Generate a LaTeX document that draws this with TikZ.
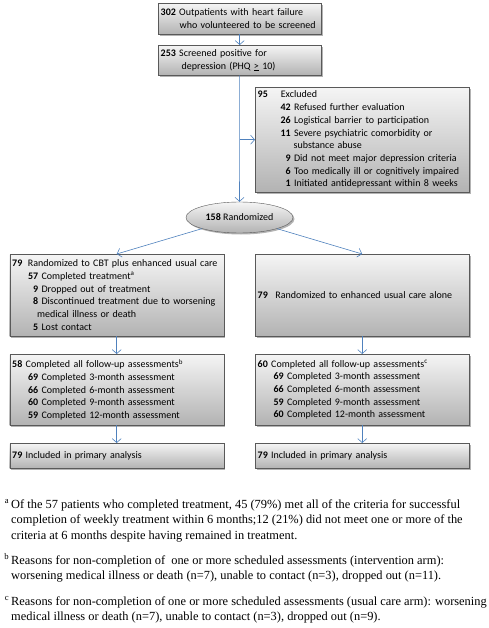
\documentclass[tikz,border=0pt]{standalone}
\usepackage{fontspec}
\setmainfont{Liberation Serif}
\newfontfamily\boxfont{Carlito}
\usetikzlibrary{arrows.meta,shadows,shapes.geometric}
\definecolor{flowblue}{RGB}{79,129,189}
\tikzset{
  box/.style={rectangle,draw=black!65,top color=black!4,bottom color=black!30,
    drop shadow={shadow xshift=1.5pt,shadow yshift=-1.5pt,fill=black!50,opacity=.6},
    anchor=north west,inner xsep=1.5pt,inner ysep=2pt,align=left,font=\boxfont\fontsize{10}{12.7}\selectfont},
  flow/.style={draw=flowblue,line width=.6pt,-{Straight Barb[length=4pt,width=9pt]}},
  note/.style={anchor=base west,inner sep=0pt,align=left,font=\fontsize{12.4}{15.5}\selectfont}
}
\newcommand{\boxnum}[2]{\hspace*{#1}\makebox[11pt][r]{\textbf{#2}}\ }
\begin{document}
\begin{tikzpicture}[x=1pt,y=-1pt]
\useasboundingbox (0,0) rectangle (489,628);
% screening
\node[box,text width=160pt,minimum height=31pt] (screen) at (158,3)
  {\hspace*{1pt}\textbf{302} Outpatients with heart failure\\\hspace*{20pt}who volunteered to be screened};
\node[box,text width=160pt,minimum height=30pt] (positive) at (158,45)
  {\hspace*{1pt}\textbf{253} Screened positive for\\\hspace*{22pt}depression (PHQ \underline{>} 10)};
\node[box,text width=211pt,minimum height=105pt] (excl) at (255,87)
  {\hspace*{1pt}\textbf{95}\hspace{13pt}Excluded\\
   \boxnum{23pt}{42}Refused further evaluation\\
   \boxnum{23pt}{26}Logistical barrier to participation\\
   \boxnum{23pt}{11}Severe psychiatric comorbidity or\\
   \hspace*{37pt}substance abuse\\
   \boxnum{23pt}{9}Did not meet major depression criteria\\
   \boxnum{23pt}{6}Too medically ill or cognitively impaired\\
   \boxnum{23pt}{1}Initiated antidepressant within 8 weeks};
\node[box,ellipse,anchor=center,inner sep=0pt,align=center,minimum width=107pt,minimum height=31pt] (rand) at (239.5,217.5)
  {\textbf{158} Randomized};
% arms
\node[box,text width=211pt,minimum height=82pt] (cbt) at (9.5,254)
  {\hspace*{1pt}\textbf{79}\hspace{5.5pt}Randomized to CBT plus enhanced usual care\\
   \boxnum{16pt}{57}Completed treatment\textsuperscript{a}\\
   \boxnum{16pt}{9}Dropped out of treatment\\
   \boxnum{16pt}{8}Discontinued treatment due to worsening\\
   \hspace*{26pt}medical illness or death\\
   \boxnum{16pt}{5}Lost contact};
\node[box,text width=211pt,minimum height=82pt] (euc) at (255,254)
  {\hspace*{1pt}\textbf{79}\hspace{7.5pt}Randomized to enhanced usual care alone};
\node[box,text width=211pt,minimum height=71pt] (follow1) at (9.5,354)
  {\hspace*{1pt}\textbf{58} Completed all follow-up assessments\textsuperscript{b}\\
   \boxnum{16pt}{69}Completed 3-month assessment\\
   \boxnum{16pt}{66}Completed 6-month assessment\\
   \boxnum{16pt}{60}Completed 9-month assessment\\
   \boxnum{16pt}{59}Completed 12-month assessment};
\node[box,text width=211pt,minimum height=71pt] (follow2) at (255,354)
  {\hspace*{1pt}\textbf{60} Completed all follow-up assessments\textsuperscript{c}\\
   \boxnum{16pt}{69}Completed 3-month assessment\\
   \boxnum{16pt}{66}Completed 6-month assessment\\
   \boxnum{16pt}{59}Completed 9-month assessment\\
   \boxnum{16pt}{60}Completed 12-month assessment};
\node[box,text width=211pt,minimum height=25pt] (incl1) at (9.5,443) {\hspace*{1pt}\textbf{79} Included in primary analysis};
\node[box,text width=211pt,minimum height=25pt] (incl2) at (255,443) {\hspace*{1pt}\textbf{79} Included in primary analysis};
% connectors
\draw[flow] (screen) -- (positive);
\draw[flow] (positive) -- (rand);
\draw[flow] (positive.south |- excl.west) -- (excl.west);
\draw[flow] (rand) -- (cbt.north);
\draw[flow] (rand) -- (euc.north);
\draw[flow] (cbt) -- (follow1);
\draw[flow] (euc) -- (follow2);
\draw[flow] (follow1) -- (incl1);
\draw[flow] (follow2) -- (incl2);
% footnotes
\node[note] (notea) at (11,539)
  {\llap{\textsuperscript{a}\,}Of the 57 patients who completed treatment, 45 (79\%) met all of the criteria for successful\\
   completion of weekly treatment within 6 months;12 (21\%) did not meet one or more of the\\
   criteria at 6 months despite having remained in treatment.};
\node[note] (noteb) at (11,579.5)
  {\llap{\textsuperscript{b}\,}Reasons for non-completion of\ \ one or more scheduled assessments (intervention arm):\\
   worsening medical illness or death (n=7), unable to contact (n=3), dropped out (n=11).};
\node[note] (notec) at (11,620.5)
  {\llap{\textsuperscript{c}\,}Reasons for non-completion of one or more scheduled assessments (usual care arm): worsening\\
   medical illness or death (n=7), unable to contact (n=3), dropped out (n=9).};
\end{tikzpicture}
\end{document}
